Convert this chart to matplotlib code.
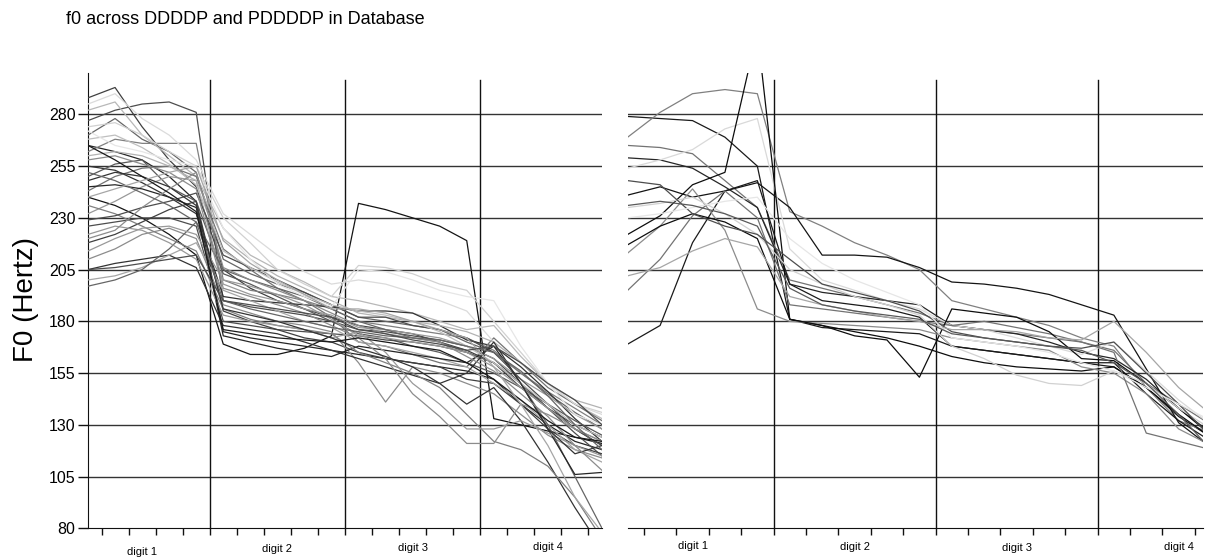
import matplotlib
matplotlib.use("Agg")
import matplotlib.pyplot as plt
import matplotlib.transforms as mtransforms

plt.rcParams['font.family'] = ['Liberation Sans', 'DejaVu Sans']

title = "f0 across DDDDP and PDDDDP in Database"
ylabel = "F0 (Hertz)"
digit_labels = ["digit 1", "digit 2", "digit 3", "digit 4"]
yticks = [80, 105, 130, 155, 180, 205, 230, 255, 280]

# 5 samples per digit, 4 digits
left_series = [
    [288, 293, 274, 258, 245, 205, 196, 190, 186, 182, 178, 176, 174, 170, 166, 160, 148, 138, 130, 124],
    [277, 282, 285, 286, 281, 190, 187, 185, 183, 180, 176, 175, 173, 171, 168, 162, 150, 138, 128, 120],
    [240, 236, 230, 222, 212, 169, 164, 164, 167, 173, 237, 234, 230, 226, 219, 133, 130, 127, 124, 121],
    [265, 262, 258, 250, 238, 175, 172, 170, 168, 166, 164, 162, 160, 158, 156, 152, 140, 130, 122, 118],
    [270, 278, 268, 262, 252, 210, 203, 198, 194, 188, 182, 180, 178, 176, 170, 165, 155, 145, 136, 128],
    [282, 286, 270, 260, 250, 225, 212, 205, 199, 192, 190, 187, 184, 180, 176, 178, 163, 150, 140, 133],
    [262, 268, 266, 266, 266, 200, 195, 193, 190, 186, 180, 178, 176, 174, 172, 166, 155, 146, 138, 130],
    [255, 253, 247, 240, 232, 192, 190, 189, 188, 187, 185, 185, 184, 178, 171, 168, 158, 146, 133, 122],
    [250, 256, 258, 245, 238, 203, 198, 192, 186, 180, 174, 172, 168, 165, 160, 155, 148, 140, 132, 125],
    [274, 276, 270, 262, 255, 230, 218, 205, 198, 192, 207, 206, 203, 198, 195, 180, 165, 150, 140, 136],
    [243, 250, 254, 255, 250, 215, 205, 196, 190, 182, 170, 168, 164, 160, 158, 172, 160, 148, 140, 132],
    [232, 238, 245, 250, 248, 198, 193, 190, 186, 183, 177, 176, 174, 172, 168, 162, 152, 144, 135, 128],
    [226, 228, 230, 230, 226, 180, 178, 176, 175, 174, 173, 171, 170, 168, 165, 160, 150, 138, 126, 115],
    [218, 222, 228, 234, 238, 185, 180, 176, 172, 170, 165, 162, 160, 158, 152, 150, 140, 128, 120, 116],
    [210, 215, 222, 225, 220, 188, 184, 180, 178, 175, 160, 141, 158, 155, 150, 145, 135, 125, 118, 114],
    [205, 208, 210, 212, 206, 178, 176, 174, 170, 166, 162, 158, 154, 150, 140, 148, 132, 112, 90, 70],
    [200, 202, 206, 212, 218, 195, 190, 185, 180, 177, 170, 168, 165, 162, 158, 150, 142, 130, 118, 112],
    [197, 200, 205, 215, 228, 205, 200, 196, 192, 186, 180, 176, 172, 170, 165, 160, 150, 130, 105, 80],
    [285, 290, 278, 270, 258, 232, 222, 212, 204, 198, 200, 198, 194, 190, 185, 170, 160, 150, 140, 135],
    [260, 262, 260, 255, 248, 220, 210, 202, 196, 190, 184, 182, 180, 178, 175, 170, 160, 150, 142, 138],
    [245, 246, 244, 240, 235, 173, 170, 167, 165, 163, 168, 166, 164, 162, 160, 168, 150, 128, 106, 107],
    [236, 232, 226, 220, 214, 186, 181, 178, 176, 174, 165, 160, 155, 148, 135, 122, 118, 110, 95, 75],
    [229, 231, 235, 238, 242, 212, 206, 200, 194, 188, 182, 182, 178, 176, 172, 165, 152, 140, 128, 120],
    [214, 220, 225, 226, 222, 200, 197, 193, 188, 181, 173, 172, 170, 168, 165, 158, 148, 138, 128, 122],
    [268, 270, 264, 256, 246, 214, 206, 199, 193, 188, 185, 183, 180, 175, 168, 160, 150, 140, 130, 124],
    [258, 260, 256, 252, 244, 196, 192, 188, 184, 178, 172, 162, 145, 134, 121, 121, 140, 135, 128, 122],
    [222, 226, 224, 218, 210, 183, 180, 178, 176, 172, 175, 165, 150, 140, 128, 128, 132, 126, 120, 115],
    [248, 252, 250, 245, 236, 186, 183, 180, 176, 172, 167, 163, 158, 150, 155, 170, 150, 128, 116, 120],
    [272, 265, 262, 258, 255, 225, 210, 198, 192, 187, 205, 204, 200, 195, 192, 190, 168, 150, 135, 130],
    [220, 224, 235, 244, 252, 206, 200, 195, 190, 184, 178, 174, 172, 170, 163, 156, 145, 134, 120, 108],
    [252, 248, 242, 236, 228, 190, 186, 183, 180, 177, 175, 173, 172, 171, 168, 165, 156, 144, 130, 118],
    [265, 258, 250, 242, 233, 176, 174, 172, 171, 170, 172, 170, 168, 166, 160, 152, 142, 132, 124, 122],
    [240, 244, 248, 252, 255, 219, 208, 200, 193, 186, 186, 184, 180, 176, 172, 158, 140, 120, 95, 78],
    [205, 206, 208, 210, 212, 190, 188, 186, 184, 182, 176, 174, 171, 169, 166, 168, 160, 150, 142, 130],
]
left_greys = [0.25, 0.3, 0.08, 0.15, 0.4, 0.72, 0.5, 0.2, 0.35, 0.82, 0.45, 0.6, 0.3, 0.25, 0.55, 0.2,
              0.65, 0.4, 0.86, 0.7, 0.15, 0.5, 0.3, 0.6, 0.75, 0.55, 0.6, 0.2, 0.9, 0.55, 0.4, 0.1, 0.65, 0.3]

right_series = [
    [279, 278, 277, 269, 255, 181, 177, 176, 175, 174, 168, 166, 164, 162, 160, 158, 148, 134, 124],
    [269, 281, 290, 292, 290, 233, 226, 218, 212, 205, 190, 186, 182, 178, 172, 168, 148, 132, 126],
    [265, 264, 261, 248, 235, 200, 196, 192, 188, 184, 178, 176, 174, 172, 170, 166, 150, 140, 130],
    [259, 258, 254, 245, 235, 198, 194, 192, 190, 188, 178, 176, 174, 170, 165, 162, 152, 138, 126],
    [241, 245, 240, 243, 247, 235, 212, 212, 211, 206, 199, 198, 196, 193, 188, 183, 157, 131, 119],
    [169, 178, 218, 243, 248, 198, 190, 188, 186, 182, 168, 166, 164, 162, 160, 160, 145, 132, 122],
    [254, 258, 263, 273, 278, 215, 200, 195, 190, 186, 178, 176, 172, 168, 164, 170, 156, 142, 130],
    [222, 231, 246, 252, 320, 181, 178, 175, 172, 168, 163, 160, 158, 157, 156, 158, 148, 135, 124],
    [213, 226, 244, 224, 186, 180, 179, 178, 177, 176, 172, 170, 168, 166, 158, 155, 145, 128, 120],
    [195, 210, 231, 243, 230, 188, 186, 184, 182, 180, 178, 180, 177, 174, 170, 165, 126, 122, 118],
    [217, 226, 232, 228, 220, 181, 178, 173, 171, 153, 186, 184, 182, 175, 162, 161, 150, 138, 125],
    [235, 237, 240, 232, 222, 205, 198, 192, 188, 183, 168, 162, 154, 150, 149, 156, 150, 138, 128],
    [248, 246, 232, 226, 222, 210, 198, 194, 190, 185, 175, 172, 170, 168, 167, 170, 155, 140, 124],
    [202, 206, 214, 220, 216, 192, 188, 185, 182, 180, 176, 176, 175, 172, 171, 180, 165, 148, 135],
    [230, 232, 235, 238, 240, 220, 208, 200, 194, 188, 172, 170, 168, 165, 160, 156, 148, 140, 132],
    [236, 238, 236, 232, 226, 196, 188, 185, 183, 181, 174, 172, 170, 168, 166, 160, 150, 135, 118],
]
right_greys = [0.1, 0.5, 0.45, 0.15, 0.08, 0.1, 0.85, 0.05, 0.55, 0.45, 0.05, 0.82, 0.3, 0.65, 0.9, 0.35]

W, H = 1207, 558
fig = plt.figure(figsize=(W / 100, H / 100), dpi=100)

def setup(ax, series, greys, xmax, show_y):
    for vals, g in zip(series, greys):
        ax.plot(range(len(vals)), vals, color=str(g), lw=0.9, zorder=3, clip_on=True)
    for yv in yticks[1:]:
        ax.axhline(yv, color='#333333', lw=1.0, zorder=2)
    for b in [4.5, 9.5, 14.5]:
        ax.axvline(b, ymin=0, ymax=0.985, color='#111111', lw=1.0, zorder=2)
    ax.set_xlim(0, xmax)
    ax.set_ylim(80, 300)
    ax.set_xticks([i + 0.5 for i in range(int(xmax - 0.5) + 1)])
    ax.set_xticklabels([])
    ax.tick_params(axis='x', direction='out', length=5, width=1, color='#111111')
    for s in ['top', 'right']:
        ax.spines[s].set_visible(False)
    ax.spines['bottom'].set_color('#111111')
    if show_y:
        ax.set_yticks(yticks)
        ax.set_yticklabels([str(v) for v in yticks], fontsize=11.5)
        ax.tick_params(axis='y', direction='out', length=7, width=1, color='#111111', pad=2)
        ax.spines['left'].set_color('#111111')
        ax.spines['left'].set_bounds(80, 300)
    else:
        ax.spines['left'].set_visible(False)
        ax.set_yticks([])
    trans = mtransforms.blended_transform_factory(ax.transData, ax.transAxes)
    return trans

axL = fig.add_axes([88 / W, (H - 528.3) / H, (602 - 88) / W, (528.3 - 73) / H])
axR = fig.add_axes([627.7 / W, (H - 528.3) / H, (1203 - 627.7) / W, (528.3 - 73) / H])

tL = setup(axL, left_series, left_greys, 19.0, True)
tR = setup(axR, right_series, right_greys, 17.75, False)

for i, (lab, yy) in enumerate(zip(digit_labels, [-0.052, -0.046, -0.043, -0.041])):
    axL.text(2 + 5 * i, yy, lab, transform=tL, ha='center', va='center', fontsize=8)
for i, (lab, yy) in enumerate(zip(digit_labels, [-0.038, -0.040, -0.043, -0.040])):
    axR.text(2 + 5 * i, yy, lab, transform=tR, ha='center', va='center', fontsize=8)

fig.text(26 / W, 1 - 300 / H, ylabel, rotation=90, ha='center', va='center', fontsize=20)
fig.text(66 / W, 1 - 19 / H, title, ha='left', va='center', fontsize=13)

fig.savefig("out.png", dpi=100)
